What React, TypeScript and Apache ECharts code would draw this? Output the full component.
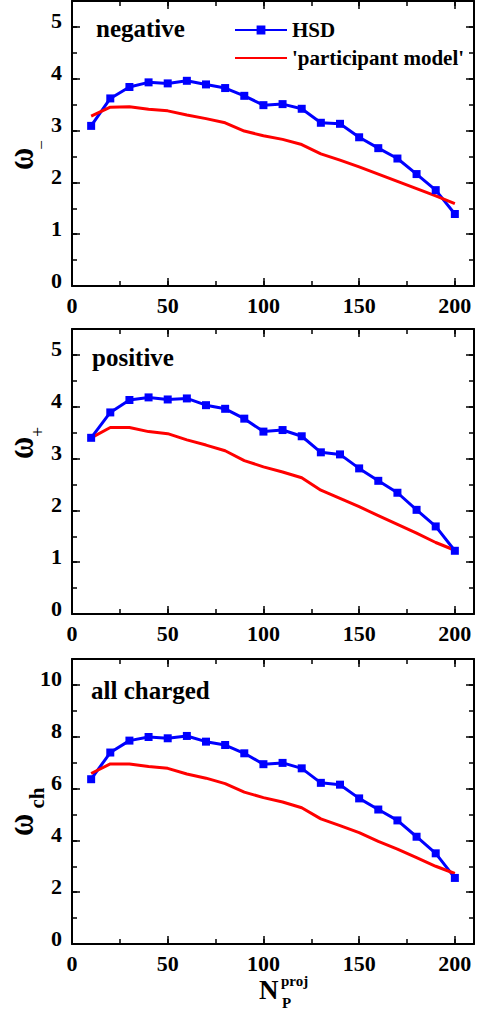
import React, { useEffect, useRef } from 'react';
import * as echarts from 'echarts';

// N_P^proj values (x)
const nProj = [10, 20, 30, 40, 50, 60, 70, 80, 90, 100, 110, 120, 130, 140, 150, 160, 170, 180, 190, 200];

// negative
const hsdNeg = [3.09, 3.62, 3.84, 3.93, 3.91, 3.96, 3.89, 3.82, 3.67, 3.49, 3.51, 3.42, 3.15, 3.13, 2.87, 2.66, 2.46, 2.16, 1.85, 1.39];
const pmNeg = [3.28, 3.45, 3.46, 3.41, 3.38, 3.30, 3.23, 3.15, 2.99, 2.90, 2.83, 2.73, 2.55, 2.43, 2.30, 2.16, 2.02, 1.88, 1.74, 1.59];
// positive
const hsdPos = [3.40, 3.89, 4.13, 4.18, 4.14, 4.16, 4.03, 3.96, 3.77, 3.52, 3.55, 3.43, 3.12, 3.08, 2.81, 2.57, 2.34, 2.01, 1.69, 1.22];
const pmPos = [3.40, 3.60, 3.60, 3.52, 3.48, 3.36, 3.26, 3.15, 2.96, 2.84, 2.74, 2.63, 2.39, 2.23, 2.07, 1.90, 1.73, 1.56, 1.38, 1.23];
// all charged
const hsdCh = [6.36, 7.39, 7.85, 7.99, 7.94, 8.03, 7.81, 7.68, 7.36, 6.94, 6.99, 6.78, 6.22, 6.15, 5.62, 5.19, 4.77, 4.14, 3.50, 2.55];
const pmCh = [6.58, 6.95, 6.95, 6.85, 6.78, 6.56, 6.40, 6.19, 5.86, 5.65, 5.48, 5.26, 4.83, 4.57, 4.30, 3.96, 3.66, 3.33, 3.00, 2.72];

const seriesNames = ['HSD', "'participant model'"];
const panelLabels = ['negative', 'positive', 'all charged'];
const yMaxes = [5.5, 5.5, 11];
const yMajor = [1, 1, 2];
const yMinor = [0.5, 0.5, 1];
const xMax = 210;
const xMajor = 50;
const xMinor = 25;

const FONT = 'Liberation Serif';

export default function App() {
  const ref = useRef<HTMLDivElement>(null);
  useEffect(() => {
    if (!ref.current) return;
    const chart = echarts.init(ref.current, null, { renderer: 'svg' });

    const hsdData = [hsdNeg, hsdPos, hsdCh];
    const pmData = [pmNeg, pmPos, pmCh];
    const tops = [1, 329, 659];

    const grids: any[] = [];
    const xAxes: any[] = [];
    const yAxes: any[] = [];
    const series: any[] = [];

    const axisLine = { show: true, onZero: false, lineStyle: { color: '#000', width: 2 } };
    const noLine = { show: false, onZero: false };
    const tick = (len: number) => ({ show: true, inside: true, length: len, lineStyle: { color: '#000', width: 1.5 } });

    for (let i = 0; i < 3; i++) {
      grids.push({ left: 72, top: tops[i], width: 406, height: 285 });
      const xb = { type: 'value', gridIndex: i, min: 0, max: xMax, splitLine: { show: false } };
      xAxes.push({
        ...xb, position: 'bottom', interval: xMajor, axisLine, axisTick: tick(8),
        axisLabel: {
          show: true, margin: 8, color: '#000', fontSize: 22, fontWeight: 'bold', fontFamily: FONT,
          formatter: (v: number) => (v % xMajor === 0 ? String(v) : ''),
        },
      });
      xAxes.push({ ...xb, position: 'bottom', interval: xMinor, axisLine: noLine, axisTick: tick(5), axisLabel: { show: false } });
      xAxes.push({ ...xb, position: 'top', interval: xMajor, axisLine, axisTick: tick(8), axisLabel: { show: false } });
      xAxes.push({ ...xb, position: 'top', interval: xMinor, axisLine: noLine, axisTick: tick(5), axisLabel: { show: false } });

      const yb = { type: 'value', gridIndex: i, min: 0, max: yMaxes[i], splitLine: { show: false } };
      const yi = yMajor[i];
      yAxes.push({
        ...yb, position: 'left', interval: yi, axisLine, axisTick: tick(8),
        axisLabel: {
          show: true, margin: 10, color: '#000', fontSize: 22, fontWeight: 'bold', fontFamily: FONT,
          verticalAlign: 'bottom', lineHeight: 12,
          formatter: (v: number) => (Math.abs(v / yi - Math.round(v / yi)) < 1e-6 ? String(v) : ''),
        },
      });
      yAxes.push({ ...yb, position: 'left', interval: yMinor[i], axisLine: noLine, axisTick: tick(5), axisLabel: { show: false } });
      yAxes.push({ ...yb, position: 'right', interval: yi, axisLine, axisTick: tick(8), axisLabel: { show: false } });
      yAxes.push({ ...yb, position: 'right', interval: yMinor[i], axisLine: noLine, axisTick: tick(5), axisLabel: { show: false } });

      series.push({
        name: seriesNames[0], type: 'line', xAxisIndex: i * 4, yAxisIndex: i * 4,
        data: nProj.map((x, k) => [x, hsdData[i][k]]),
        symbol: 'rect', symbolSize: 8, showSymbol: true,
        lineStyle: { color: '#0000ff', width: 3 }, itemStyle: { color: '#0000ff' },
      });
      series.push({
        name: seriesNames[1], type: 'line', xAxisIndex: i * 4, yAxisIndex: i * 4,
        data: nProj.map((x, k) => [x, pmData[i][k]]),
        symbol: 'none', showSymbol: false,
        lineStyle: { color: '#ff0000', width: 3 }, itemStyle: { color: '#ff0000' },
      });
    }

    const labelCenters = [[96, 28], [92, 357], [91, 690]];
    const graphics: any[] = panelLabels.map((t, i) => ({
      type: 'text', x: labelCenters[i][0], y: labelCenters[i][1],
      style: { text: t, font: `bold 25px ${FONT}`, fill: '#000', align: 'left', verticalAlign: 'middle' },
    }));

    const omegaY = [159, 448, 825];
    omegaY.forEach((y) => {
      graphics.push({
        type: 'text', x: 20, y, rotation: Math.PI / 2, scaleX: 0.8,
        style: { text: 'ω', font: `bold 38px ${FONT}`, fill: '#000', align: 'center', verticalAlign: 'middle' },
      });
    });
    graphics.push({
      type: 'text', x: 41, y: 145, rotation: Math.PI / 2,
      style: { text: '−', font: `17px ${FONT}`, fill: '#000', align: 'center', verticalAlign: 'middle' },
    });
    graphics.push({
      type: 'text', x: 38, y: 432, rotation: Math.PI / 2,
      style: { text: '+', font: `18px ${FONT}`, fill: '#000', align: 'center', verticalAlign: 'middle' },
    });
    graphics.push({
      type: 'text', x: 37, y: 798, rotation: Math.PI / 2,
      style: { text: 'ch', font: `bold 21px ${FONT}`, fill: '#000', align: 'center', verticalAlign: 'middle' },
    });
    // x-axis title N_P^proj
    graphics.push({
      type: 'text', x: 259, y: 990,
      style: { text: 'N', font: `bold 27px ${FONT}`, fill: '#000', align: 'left', verticalAlign: 'middle' },
    });
    graphics.push({
      type: 'text', x: 281, y: 981,
      style: { text: 'proj', font: `bold 15px ${FONT}`, fill: '#000', align: 'left', verticalAlign: 'middle' },
    });
    graphics.push({
      type: 'text', x: 282, y: 1003,
      style: { text: 'P', font: `bold 15px ${FONT}`, fill: '#000', align: 'left', verticalAlign: 'middle' },
    });

    chart.setOption({
      animation: false,
      backgroundColor: '#fff',
      grid: grids,
      xAxis: xAxes,
      yAxis: yAxes,
      series,
      legend: {
        show: true, orient: 'vertical', left: 229, top: 14,
        itemWidth: 52, itemHeight: 11, itemGap: 6,
        data: [
          { name: seriesNames[0] },
          { name: seriesNames[1], itemStyle: { opacity: 0 } },
        ],
        textStyle: { fontSize: 21, lineHeight: 22, fontWeight: 'bold', fontFamily: FONT, color: '#000' },
      },
      graphic: graphics,
    });

    return () => chart.dispose();
  }, []);

  return <div ref={ref} style={{ position: 'fixed', left: 0, top: 0, width: 477, height: 1011, background: '#fff' }} />;
}
